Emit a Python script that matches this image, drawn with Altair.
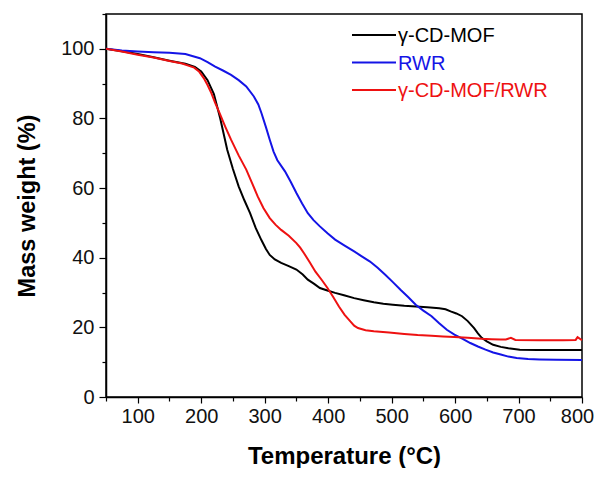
import altair as alt
import pandas as pd

series_names = ["γ-CD-MOF", "RWR", "γ-CD-MOF/RWR"]
series_colors = ["#000000", "#1414e6", "#ee1111"]

t_mof = [50,75,100,125,150,175,190,200,210,220,230,241,250,259,268,277,286,295,302,308,316,326,338,350,360,368,378,387,400,411,425,441,456,472,487,502,520,538,556,575,585,593,602,611,620,630,636,642,650,660,672,684,702,730,760,800]
m_mof = [100,99.3,98.5,97.6,96.6,95.7,94.8,93.5,91,87,80,71,65.5,60.5,56.5,52.8,48.5,45,42.5,40.8,39.5,38.5,37.6,36.6,35.2,33.7,32.5,31.3,30.5,29.9,29.2,28.4,27.8,27.2,26.8,26.5,26.2,26,25.8,25.5,25.2,24.6,24,23.2,21.8,19.8,18.3,17,16,15,14.4,14,13.6,13.5,13.5,13.5]

t_rwr = [50,75,100,125,150,175,198,210,222,235,247,259,271,283,290,295,302,308,314,320,332,341,350,359,368,377,387,399,411,426,441,453,466,478,490,502,514,526,538,550,563,575,587,599,612,624,636,648,660,672,684,697,715,733,760,800]
m_rwr = [100,99.5,99.2,99,98.9,98.5,97.3,96.2,94.9,93.7,92.5,91,89.2,86.3,84,81.5,77.5,73.9,70.5,68,64.8,61.8,58.6,55.6,52.8,50.8,49,47,45.2,43.5,41.8,40.4,38.9,37.1,35.1,33,30.8,28.7,26.5,24.8,23.2,21.2,19.3,17.9,16.7,15.5,14.5,13.6,12.8,12.2,11.6,11.2,10.9,10.8,10.7,10.6]

t_mix = [50,75,100,125,150,170,189,197,204,210,216,222,229,238,247,259,271,280,289,298,308,317,326,338,350,356,362,371,380,390,399,408,417,426,435,441,447,459,472,496,520,541,563,581,599,620,642,657,672,680,688,695,733,770,790,793,800]
m_mix = [100,99.2,98.3,97.5,96.5,95.8,94.6,93.4,91.6,89.6,87.3,84.5,81.5,77.6,73.9,69.4,65.3,61.5,57.6,54.3,51.4,49.5,48,46.3,44.2,42.9,41.3,38.7,36,33.6,31.3,28.7,26,23.6,21.7,20.5,19.8,19.2,18.9,18.5,18.1,17.8,17.6,17.4,17.2,17,16.7,16.6,16.5,16.5,17.0,16.4,16.3,16.3,16.4,17.2,16.3]

rows = []
for name, ts, ms in zip(series_names, [t_mof, t_rwr, t_mix], [m_mof, m_rwr, m_mix]):
    for i, (t, m) in enumerate(zip(ts, ms)):
        rows.append({"series": name, "T": t, "M": m, "order": i})
df = pd.DataFrame(rows)

FONT = "Liberation Sans"

x_axis = alt.Axis(
    values=list(range(50, 801, 50)),
    labelExpr="datum.value % 100 == 0 ? datum.label : ''",
    tickSize={"condition": {"test": "datum.value % 100 != 0", "value": 4}, "value": 6},
    labelOffset={"condition": {"test": "datum.value == 800", "value": -5}, "value": 0},
    title="Temperature (°C)",
    titleFontSize=24, titleFontWeight="bold", titlePadding=18,
    labelFontSize=20, labelPadding=3, labelColor="#111", grid=False,
    domainColor="black", domainWidth=1.5, tickColor="black", tickWidth=1.2,
    labelFlush=False,
)
y_axis = alt.Axis(
    values=list(range(0, 111, 10)),
    labelExpr="datum.value % 20 == 0 && datum.value <= 100 ? datum.label : ''",
    tickSize={"condition": {"test": "datum.value % 20 != 0", "value": 4}, "value": 7},
    title="Mass weight (%)",
    titleFontSize=23.5, titleFontWeight="bold", titlePadding=21,
    labelFontSize=20, labelPadding=5, labelColor="#111", grid=False,
    domainColor="black", domainWidth=1.5, tickColor="black", tickWidth=1.2,
    labelFlush=False,
)

lines = alt.Chart(df).mark_line(strokeWidth=2).encode(
    x=alt.X("T:Q", scale=alt.Scale(domain=[50, 800], nice=False, zero=False), axis=x_axis),
    y=alt.Y("M:Q", scale=alt.Scale(domain=[0, 110], nice=False), axis=y_axis),
    color=alt.Color("series:N", scale=alt.Scale(domain=series_names, range=series_colors), legend=None),
    order="order:Q",
)

legend_layers = []
for i, (name, col) in enumerate(zip(series_names, series_colors)):
    ly = 21 + i * 27.5
    legend_layers.append(
        alt.Chart(df).mark_rule(strokeWidth=2, color=col).encode(
            x=alt.value(246), x2=alt.value(290), y=alt.value(ly)
        ).transform_filter(alt.datum.order == 0).transform_filter(alt.datum.series == name)
    )
    legend_layers.append(
        alt.Chart(df).mark_text(align="left", baseline="middle", fontSize=20, color=col, font=FONT).encode(
            x=alt.value(292), y=alt.value(ly + 1), text="series:N"
        ).transform_filter(alt.datum.order == 0).transform_filter(alt.datum.series == name)
    )

chart = alt.layer(lines, *legend_layers).properties(
    width=476, height=383,
    autosize=alt.AutoSizeParams(type="none"),
    padding={"left": 98, "top": 6, "right": 14, "bottom": 71},
).configure(font=FONT).configure_view(stroke="black", strokeWidth=1.5)

chart.save("out.html", embed_options={"renderer": "svg", "actions": False})
